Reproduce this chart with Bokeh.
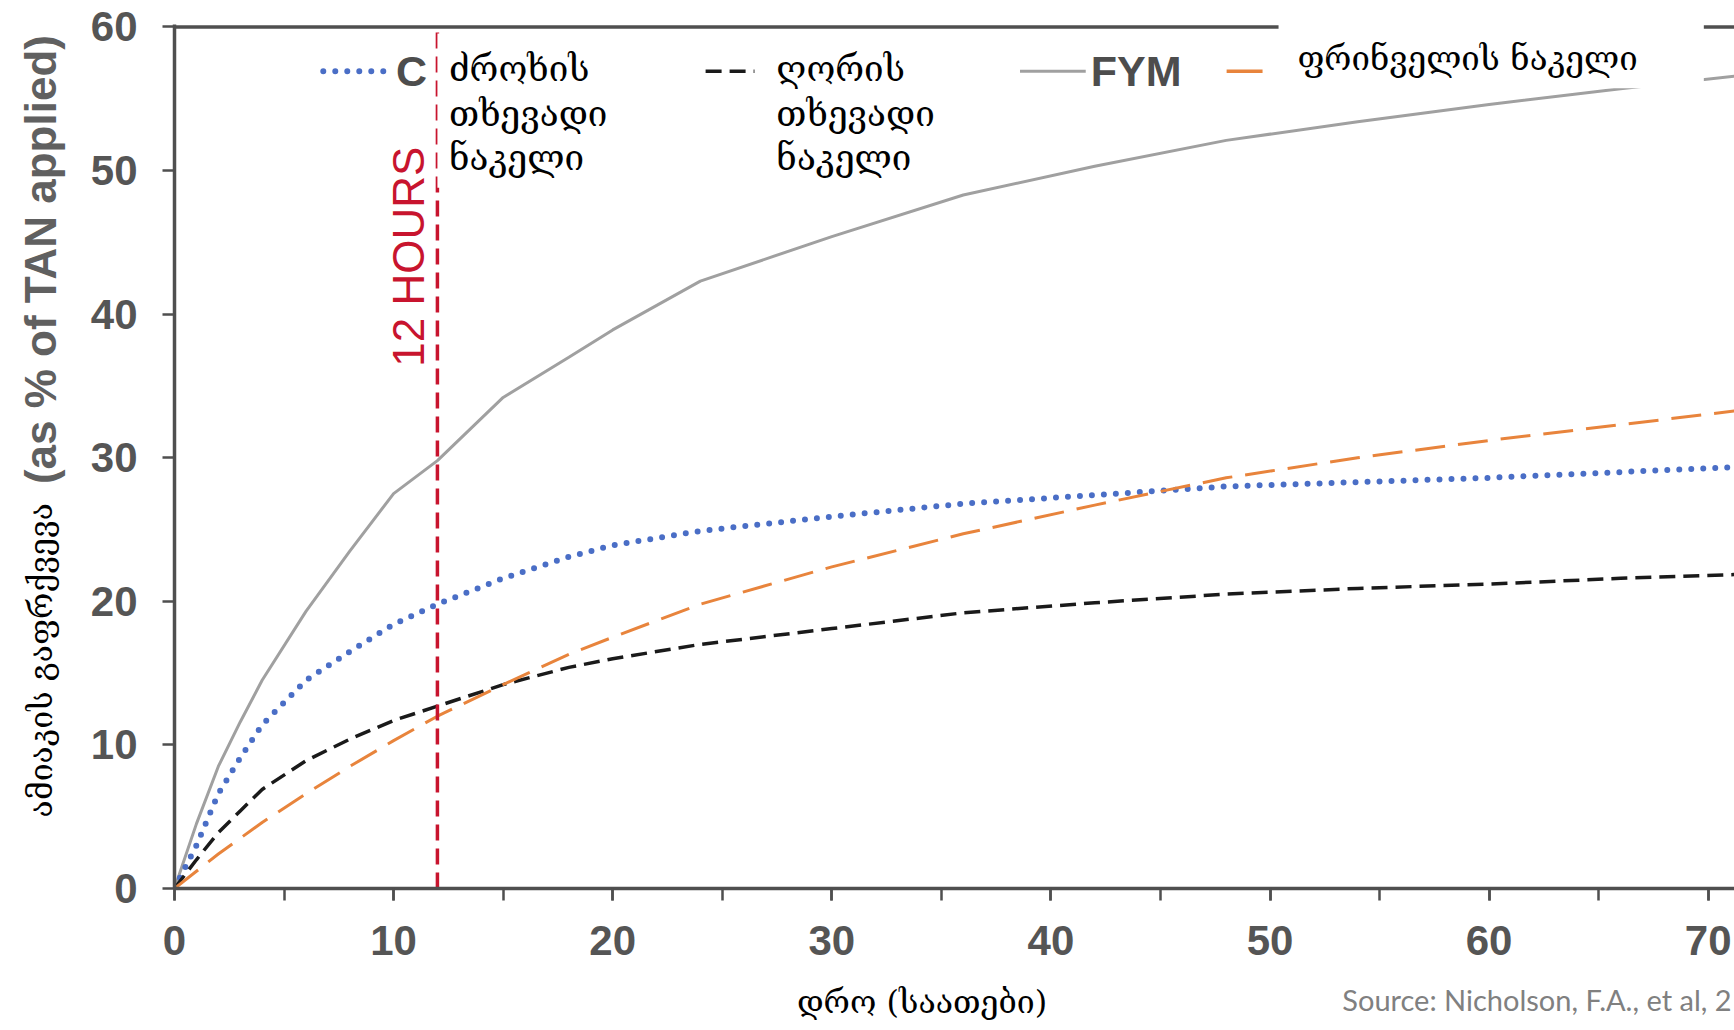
import math
from bokeh.plotting import figure
from bokeh.models import Range1d, SingleIntervalTicker, Label
from bokeh.embed import file_html
from bokeh.resources import INLINE

# ---------------- data ----------------
hours = [0, 1, 2, 3, 4, 6, 8, 10, 12, 15, 18, 20, 24, 30, 36, 42, 48, 54, 60, 66, 72]
cattle_slurry = [0, 3.0, 6.6, 9.1, 11.4, 14.5, 16.5, 18.4, 19.8, 21.6, 23.1, 23.9, 24.9, 25.9, 26.8, 27.4, 28.0, 28.3, 28.6, 29.0, 29.4]
pig_slurry = [0, 2.0, 3.9, 5.4, 6.9, 8.9, 10.4, 11.7, 12.7, 14.2, 15.4, 16.0, 17.0, 18.1, 19.2, 19.9, 20.5, 20.9, 21.2, 21.6, 21.9]
fym = [0, 4.5, 8.5, 11.6, 14.5, 19.3, 23.5, 27.5, 29.8, 34.2, 37.0, 38.9, 42.3, 45.4, 48.3, 50.3, 52.1, 53.4, 54.6, 55.7, 56.7]
poultry = [0, 1.2, 2.4, 3.5, 4.6, 6.6, 8.5, 10.3, 12.0, 14.2, 16.3, 17.5, 19.8, 22.4, 24.7, 26.7, 28.6, 30.0, 31.2, 32.3, 33.4]
cutoff_hours = 12

x_tick_values = [0, 10, 20, 30, 40, 50, 60, 70]
y_tick_values = [0, 10, 20, 30, 40, 50, 60]

legend_cattle = ["ძროხის", "თხევადი", "ნაკელი"]
legend_pig = ["ღორის", "თხევადი", "ნაკელი"]
legend_fym = "FYM"
legend_cattle_en = "C"
legend_poultry = "ფრინველის ნაკელი"
y_title_en = "(as % of TAN applied)"
y_title_ka = "ამიაკის გაფრქვევა"
x_title = "დრო (საათები)"
marker_text = "12 HOURS"
source_text = "Source: Nicholson, F.A., et al, 2"

# ---------------- figure ----------------
W, H = 1734, 1030
X_END = 71.2
Y_END = 60.17

p = figure(width=W, height=H, output_backend="svg", toolbar_location=None,
           x_range=Range1d(0, X_END), y_range=Range1d(0, Y_END),
           min_border_left=171, min_border_right=0, min_border_top=24, min_border_bottom=138)
p.outline_line_color = None
p.grid.visible = False
p.background_fill_color = "white"
p.border_fill_color = "white"

AX = "#4f4f4f"
for ax in (p.xaxis[0], p.yaxis[0]):
    ax.axis_line_color = AX
    ax.axis_line_width = 3.5
    ax.major_tick_line_color = AX
    ax.major_tick_line_width = 2.5
    ax.minor_tick_line_color = AX
    ax.minor_tick_line_width = 2.5
    ax.major_tick_in = 0
    ax.major_tick_out = 12
    ax.minor_tick_in = 0
    ax.minor_tick_out = 12
    ax.major_label_text_font = "Liberation Sans"
    ax.major_label_text_font_style = "bold"
    ax.major_label_text_font_size = "42px"
    ax.major_label_text_color = "#555555"

p.xaxis[0].ticker = SingleIntervalTicker(interval=10, num_minor_ticks=2)
p.xaxis[0].major_label_standoff = 25
p.yaxis[0].ticker = SingleIntervalTicker(interval=10, num_minor_ticks=0)
p.yaxis[0].major_label_standoff = 25
p.xaxis[0].major_label_overrides = {v: str(v) for v in x_tick_values}
p.yaxis[0].major_label_overrides = {v: str(v) for v in y_tick_values}

# top frame line
p.segment(x0=[0], y0=[60], x1=[X_END], y1=[60], line_color=AX, line_width=3.5)

# ---------------- curves ----------------
BLUE, BLACK, GRAY, ORANGE, RED = "#4a6ec6", "#1a1a1a", "#a0a0a0", "#e8843c", "#c8142e"
p.line(hours, fym, line_color=GRAY, line_width=3)
p.line(hours, cattle_slurry, line_color=BLUE, line_width=6, line_dash="0 12", line_cap="round")
p.line(hours, pig_slurry, line_color=BLACK, line_width=3.5, line_dash="16 8")
p.line(hours, poultry, line_color=ORANGE, line_width=3, line_dash="30 13")

# 12-hour marker
p.segment(x0=[cutoff_hours], y0=[0], x1=[cutoff_hours], y1=[Y_END], line_color=RED,
          line_width=3.5, line_dash="16 8")

# ---------------- white cover boxes ----------------
p.quad(left=[12.0], right=[36.95], bottom=[48.8], top=[59.54], fill_color="white", line_color=None)
p.quad(left=[50.39], right=[69.8], bottom=[55.73], top=[62], fill_color="white", line_color=None)

# ---------------- legend samples ----------------
LY = 56.91
p.segment(x0=[6.79], y0=[LY], x1=[9.84], y1=[LY], line_color=BLUE, line_width=6,
          line_dash="0 12", line_cap="round")
p.segment(x0=[24.24], y0=[LY], x1=[26.47], y1=[LY], line_color=BLACK, line_width=3.5, line_dash="16 8")
p.segment(x0=[38.59], y0=[LY], x1=[41.59], y1=[LY], line_color=GRAY, line_width=3)
p.segment(x0=[48.02], y0=[LY], x1=[49.66], y1=[LY], line_color=ORANGE, line_width=3.5)

KA_FONT = "DejaVu Serif"

def add_label(place="center", **kw):
    lbl = Label(**kw)
    if place == "center":
        p.add_layout(lbl)
    else:
        p.add_layout(lbl, place)

add_label(x=10.11, y=LY, text=legend_cattle_en, text_font="Liberation Sans", text_font_style="bold",
          text_font_size="43px", text_color="#4d4d4d", text_baseline="middle", text_align="left")
add_label(x=41.82, y=LY, text=legend_fym, text_font="Liberation Sans", text_font_style="bold",
          text_font_size="43px", text_color="#4d4d4d", text_baseline="middle", text_align="left")

for i, line in enumerate(legend_cattle):
    add_label(x=12.53, y=57.05 - i * 3.1, text=line, text_font=KA_FONT, text_font_size="35px",
              text_color="black", text_baseline="middle", text_align="left")
for i, line in enumerate(legend_pig):
    add_label(x=27.47, y=57.05 - i * 3.1, text=line, text_font=KA_FONT, text_font_size="35px",
              text_color="black", text_baseline="middle", text_align="left")
add_label(x=51.25, y=57.81, text=legend_poultry, text_font=KA_FONT, text_font_size="33px",
          text_color="black", text_baseline="middle", text_align="left")

# marker text
add_label(x=10.66, y=44.0, text=marker_text, angle=math.pi / 2, text_font="Liberation Sans",
          text_font_size="44px", text_color=RED, text_align="center", text_baseline="middle")

# axis titles (placed in the side panels so they are not clipped by the frame)
add_label(place="left", x=-6.1, y=43.8, text=y_title_en, angle=math.pi / 2, text_font="Liberation Sans",
          text_font_style="bold", text_font_size="44px", text_color="#606060",
          text_align="center", text_baseline="middle")
add_label(place="left", x=-6.1, y=15.9, text=y_title_ka, angle=math.pi / 2, text_font=KA_FONT,
          text_font_size="32px", text_color="black", text_align="center", text_baseline="middle")
add_label(place="below", x=34.12, y=-7.9, text=x_title, text_font=KA_FONT, text_font_size="32px",
          text_color="black", text_align="center", text_baseline="middle")
add_label(place="below", x=53.3, y=-7.76, text=source_text, text_font="Lato", text_font_size="29px",
          text_color="#808080", text_align="left", text_baseline="middle")

open("out.html", "w").write(file_html(p, INLINE))
